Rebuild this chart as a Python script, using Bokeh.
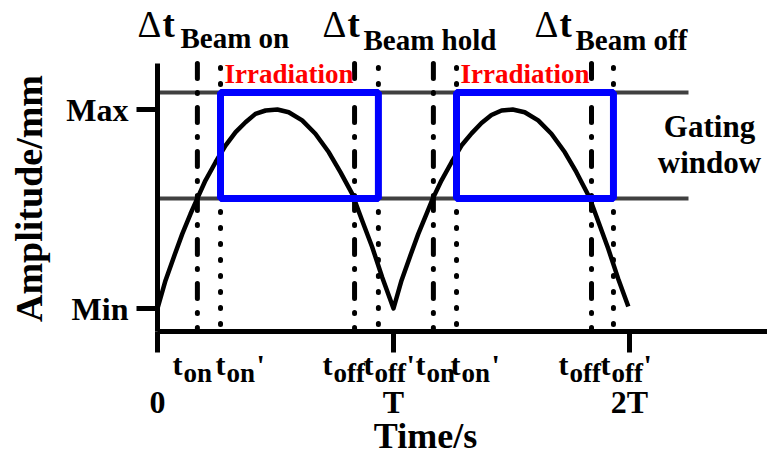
import math
from bokeh.plotting import figure
from bokeh.models import Range1d, FixedTicker, Label
from bokeh.embed import file_html
from bokeh.resources import INLINE

# ---------------- data (time in units of T, amplitude: Min=0, Max=1) ----------------
curve_t = [0.000, 0.034, 0.069, 0.105, 0.140, 0.168, 0.203, 0.246, 0.288, 0.331,
           0.373, 0.415, 0.458, 0.508, 0.556, 0.613, 0.669, 0.726, 0.775, 0.825,
           0.867, 0.910, 0.952, 1.000,
           1.034, 1.069, 1.105, 1.140, 1.166, 1.203, 1.246, 1.288, 1.331,
           1.373, 1.415, 1.458, 1.505, 1.556, 1.613, 1.669, 1.726, 1.775, 1.830,
           1.870, 1.910, 1.952, 1.995]
curve_amp = [0.000, 0.141, 0.258, 0.375, 0.476, 0.551, 0.643, 0.735, 0.819, 0.886,
             0.936, 0.978, 0.995, 1.000, 0.986, 0.945, 0.878, 0.785, 0.685, 0.576,
             0.442, 0.308, 0.157, 0.000,
             0.141, 0.258, 0.375, 0.476, 0.551, 0.643, 0.735, 0.819, 0.880,
             0.932, 0.972, 0.995, 1.000, 0.986, 0.945, 0.878, 0.785, 0.685, 0.559,
             0.430, 0.300, 0.150, 0.010]

gate_low = 0.553
gate_high = 1.085
gate_end = 2.25

t_on = [0.169, 1.169]
t_on_p = [0.267, 1.267]
t_off = [0.835, 1.839]
t_off_p = [0.936, 1.932]

x_ticks = [0, 1, 2]
x_tick_labels = ["0", "T", "2T"]
y_ticks = [0, 1]
y_tick_labels = ["Min", "Max"]

# ---------------- geometry ----------------
W, H = 767, 458
AX_L, AX_T, AX_B = 157, 63, 331     # axis box left/top/bottom in canvas px
PX_T = 236.0                        # pixels per T
PX_A = 199.0                        # pixels per amplitude unit
MIN_PX = 308.0                      # canvas y of Min

x_start = -AX_L / PX_T
x_end = (W - AX_L) / PX_T
y_end = MIN_PX / PX_A
y_start = -(H - MIN_PX) / PX_A
y_axis_top = (MIN_PX - AX_T) / PX_A
y_axis_bottom = -(AX_B - MIN_PX) / PX_A

FONT = "Liberation Serif"

p = figure(width=W, height=H, output_backend="svg", toolbar_location=None,
           x_range=Range1d(x_start, x_end), y_range=Range1d(y_start, y_end),
           min_border=0)
p.outline_line_color = None
p.xgrid.visible = False
p.ygrid.visible = False
p.background_fill_color = "white"
p.border_fill_color = "white"

for ax in (p.xaxis[0], p.yaxis[0]):
    ax.axis_line_width = 5
    ax.axis_line_color = "black"
    ax.major_tick_line_width = 5
    ax.major_tick_line_color = "black"
    ax.major_tick_out = 21
    ax.major_tick_in = 0
    ax.minor_tick_line_color = None
    ax.major_label_text_font = FONT
    ax.major_label_text_font_style = "bold"
    ax.major_label_text_font_size = "32px"
    ax.major_label_text_color = "black"

p.xaxis.ticker = FixedTicker(ticks=x_ticks)
p.xaxis.major_label_overrides = dict(zip(x_ticks, x_tick_labels))
p.xaxis.major_label_standoff = 31
p.xaxis.fixed_location = y_axis_bottom
p.xaxis.bounds = (0, x_end)
p.yaxis.ticker = FixedTicker(ticks=y_ticks)
p.yaxis.major_label_overrides = dict(zip(y_ticks, y_tick_labels))
p.yaxis.major_label_standoff = 8
p.yaxis.fixed_location = 0
p.yaxis.bounds = (y_axis_bottom, y_axis_top)

# gating window lines
p.segment(x0=[0, 0], y0=[gate_low, gate_high], x1=[gate_end, gate_end],
          y1=[gate_low, gate_high], line_color="#404040", line_width=4)

# vertical marker lines
n = len(t_on)
p.segment(x0=t_on + t_off, y0=[y_axis_top] * 2 * n, x1=t_on + t_off,
          y1=[y_axis_bottom] * 2 * n,
          line_color="black", line_width=5, line_dash="15 14 1 14", line_cap="round")
p.segment(x0=t_on_p + t_off_p, y0=[y_axis_top] * 2 * n, x1=t_on_p + t_off_p,
          y1=[y_axis_bottom] * 2 * n,
          line_color="black", line_width=5, line_dash="1 15", line_dash_offset=12,
          line_cap="round")

# breathing curve
p.line(curve_t, curve_amp, line_color="black", line_width=4.5, line_join="round")

# irradiation boxes
p.quad(left=t_on_p, right=t_off_p, bottom=[gate_low] * n, top=[gate_high] * n,
       fill_color=None, line_color="#0000FF", line_width=7)

BASE_FIX = 0.37   # empirical shift of the rendered alphabetic baseline (in em)


def lab(px, py, text, size, color="black", align="left", baseline="alphabetic",
        style="bold", angle=0.0):
    # position in canvas pixels (top-left origin) -> screen units of the frame
    fs = float(size.replace("px", ""))
    fix = BASE_FIX * fs if baseline == "alphabetic" else 0.0
    p.add_layout(Label(x=px, y=H - py + fix, x_units="screen", y_units="screen",
                       text=text, text_font=FONT, text_font_style=style,
                       text_font_size=size, text_color=color, text_align=align,
                       text_baseline=baseline, angle=angle))


def tx(t):  # data time -> canvas px
    return AX_L + t * PX_T


# top delta-t labels
for xp, sub_xp, sub, sub_base in [(137, 180, "Beam on", 48),
                                  (322, 363, "Beam hold", 50),
                                  (534, 575, "Beam off", 50)]:
    lab(xp, 38, "\u0394", "37px", style="normal")
    lab(xp + 25, 38, "t", "37px")
    lab(sub_xp, sub_base, sub, "29px")

# Irradiation
for t in t_on_p:
    lab(tx(t) + 4, 83, "Irradiation", "27px", color="#FF0000")

# Gating window
lab(709, 137, "Gating", "31px", align="center")
lab(709, 173, "window", "31px", align="center")

# t labels below x axis
t_labels = [(172, "on", False), (215, "on", True), (322, "off", False), (363, "off", True),
            (415, "on", False), (450, "on", True), (558, "off", False), (600, "off", True)]
for xp, sub, prime in t_labels:
    lab(xp, 375, "t", "30px")
    lab(xp + 11, 382, sub, "27px")
    if prime:
        w = 29 if sub == "on" else 31
        lab(xp + 12 + w, 375, "'", "30px")

# axis titles
lab(425, 449, "Time/s", "36px", align="center")
lab(28, 198, "Amplitude/mm", "38px", align="center", baseline="middle",
    angle=math.pi / 2)

open("out.html", "w").write(file_html(p, INLINE))
